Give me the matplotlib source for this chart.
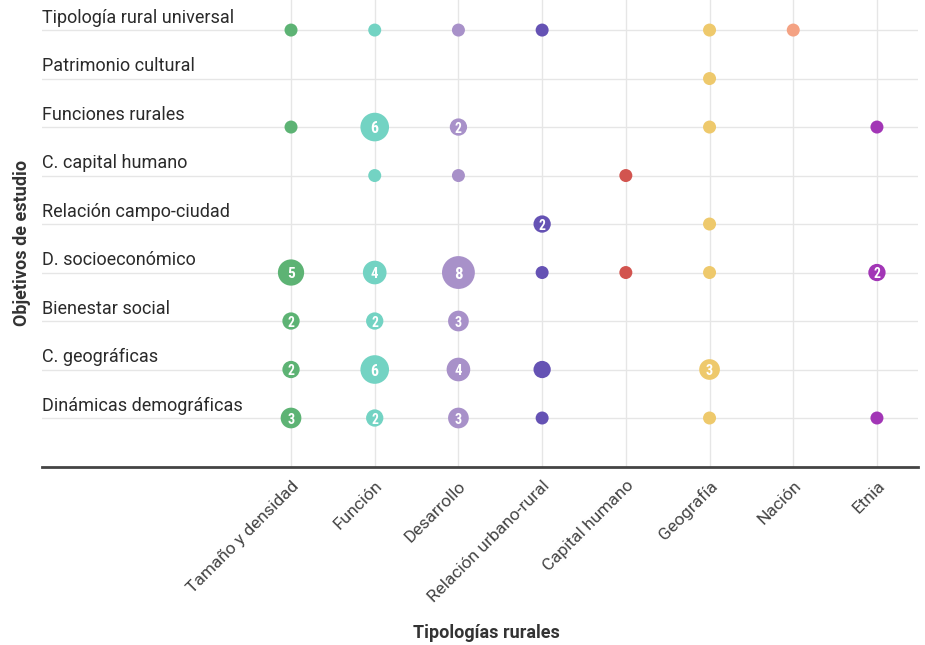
import numpy as np
import matplotlib
matplotlib.use('Agg')
import matplotlib.pyplot as plt
import matplotlib.transforms as mtransforms

plt.rcParams['font.family'] = ['Roboto', 'DejaVu Sans']

# Data
tipologias = ['Tamaño y densidad', 'Función', 'Desarrollo', 'Relación urbano-rural',
              'Capital humano', 'Geografía', 'Nación', 'Etnia']
objetivos = ['Tipología rural universal', 'Patrimonio cultural', 'Funciones rurales',
             'C. capital humano', 'Relación campo-ciudad', 'D. socioeconómico',
             'Bienestar social', 'C. geográficas', 'Dinámicas demográficas']
colores = ['#5db374', '#73d3c3', '#a891c9', '#6552b4', '#d2544f', '#eec96c', '#f4a283', '#a236b6']

# conteos[fila][columna]
conteos = [
    [1, 1, 1, 1, 0, 1, 1, 0],
    [0, 0, 0, 0, 0, 1, 0, 0],
    [1, 6, 2, 0, 0, 1, 0, 1],
    [0, 1, 1, 0, 1, 0, 0, 0],
    [0, 0, 0, 2, 0, 1, 0, 0],
    [5, 4, 8, 1, 1, 1, 0, 2],
    [2, 2, 3, 0, 0, 0, 0, 0],
    [2, 6, 4, 2, 0, 3, 0, 0],
    [3, 2, 3, 1, 0, 1, 0, 1],
]
# burbujas sin número
sin_etiqueta = [(7, 3)]

fig = plt.figure(figsize=(9.25, 6.45), dpi=100)
ax = fig.add_axes([0.0454, 0.276, 0.947, 0.724])

for i, fila in enumerate(conteos):
    for j, n in enumerate(fila):
        if n == 0:
            continue
        d_px = np.sqrt(169 + 130 * (n - 1))
        d_pt = d_px * 0.72
        ax.scatter(j, i, s=d_pt ** 2, color=colores[j], edgecolors='none', zorder=3)
        if n > 1 and (i, j) not in sin_etiqueta:
            ax.text(j, i, str(n), color='white', fontweight='bold',
                    fontsize=9 + 0.4 * n, ha='center', va='center_baseline',
                    family=['Roboto Condensed', 'Roboto', 'DejaVu Sans'], zorder=4)

for i, nombre in enumerate(objetivos):
    ax.annotate(nombre, (-2.975, i), xytext=(0, 2.5), textcoords='offset points',
                ha='left', va='bottom', fontsize=13, color='#2a2a2a')

ax.set_xlim(-2.975, 7.49)
ax.set_ylim(9.01, -0.62)
ax.set_xticks(range(len(tipologias)))
ax.set_xticklabels(tipologias, rotation=45, ha='right', rotation_mode='anchor',
                   fontsize=12.5, color='#444444')
desplaz = mtransforms.ScaledTranslation(11 / 100, 0, fig.dpi_scale_trans)
for lbl in ax.get_xticklabels():
    lbl.set_transform(lbl.get_transform() + desplaz)
ax.set_yticks(range(len(objetivos)))
ax.set_yticklabels([])
ax.tick_params(length=0, pad=8)
ax.grid(True, color='#e6e6e6', lw=1)
ax.set_axisbelow(True)
for s in ['top', 'left', 'right']:
    ax.spines[s].set_visible(False)
ax.spines['bottom'].set_color('#444444')
ax.spines['bottom'].set_linewidth(2)

fig.text(0.526, 0.018, 'Tipologías rurales', fontsize=13, fontweight='bold',
         color='#333333', ha='center', va='center')
fig.text(0.024, 0.623, 'Objetivos de estudio', rotation=90, fontsize=13,
         fontweight='bold', color='#333333', ha='center', va='center')

fig.savefig('out.png', dpi=100)
